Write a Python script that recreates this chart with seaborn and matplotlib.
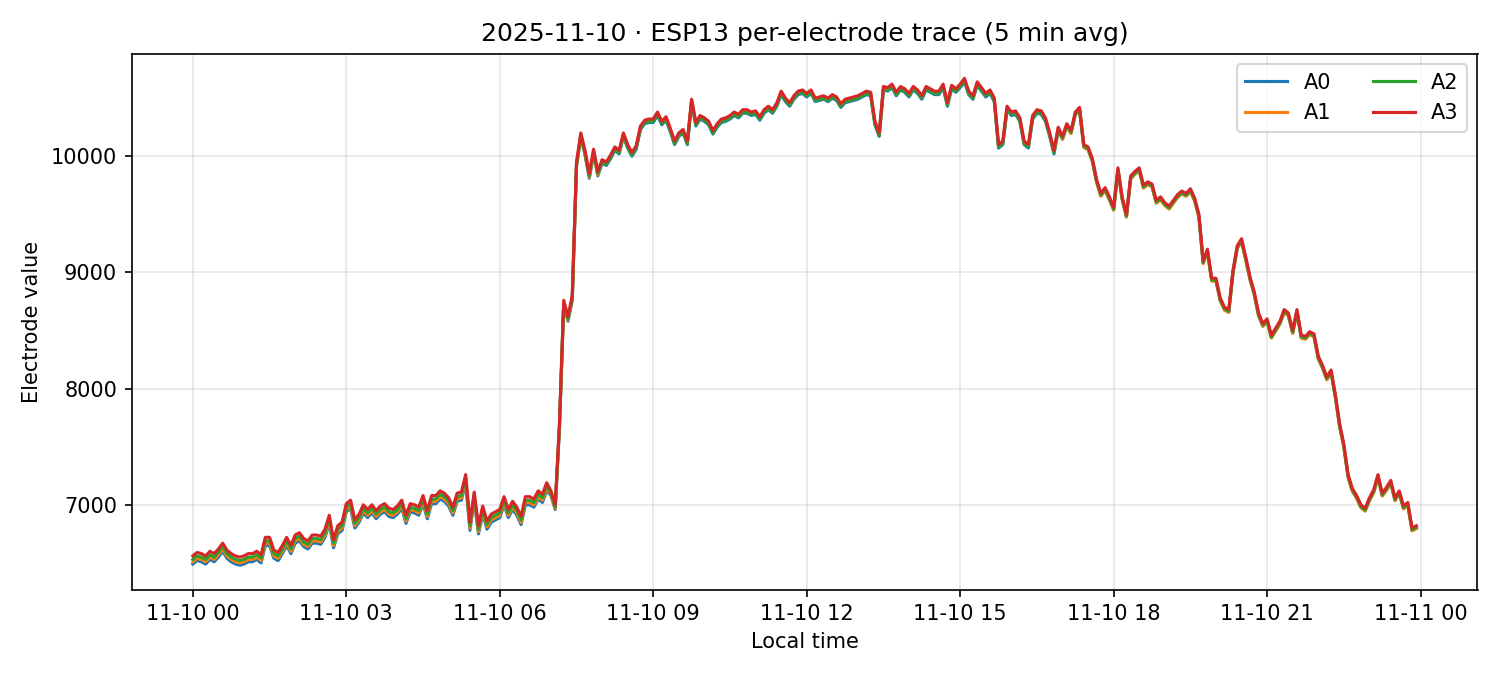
import numpy as np
import pandas as pd
import matplotlib
matplotlib.use("Agg")
import matplotlib.pyplot as plt
import matplotlib.dates as mdates
import seaborn as sns

# A3 values, 5-minute averages, one row per hour (12 values each)
a3_hours = [
    [6560,6590,6580,6560,6600,6580,6620,6670,6610,6580,6560,6550],
    [6560,6580,6580,6600,6570,6720,6720,6610,6590,6650,6720,6650],
    [6740,6760,6710,6690,6740,6740,6730,6790,6910,6700,6820,6850],
    [7010,7040,6870,6920,7000,6960,7000,6950,6990,7010,6970,6960],
    [6990,7040,6910,7010,7000,6980,7080,6950,7080,7080,7120,7100],
    [7060,6980,7100,7110,7260,6850,7110,6820,6990,6860,6920,6940],
    [6960,7070,6960,7030,6980,6900,7070,7070,7050,7120,7090,7190],
    [7120,7000,7700,8760,8620,8800,9950,10200,10050,9850,10060,9870],
    [9970,9950,10010,10080,10050,10200,10100,10030,10090,10260,10310,10320],
    [10320,10380,10300,10340,10240,10130,10200,10230,10130,10490,10290,10350],
    [10330,10300,10220,10280,10320,10330,10350,10380,10360,10400,10400,10380],
    [10390,10340,10400,10430,10400,10460,10560,10500,10460,10520,10560,10570],
    [10540,10570,10500,10510,10520,10500,10530,10510,10450,10490,10500,10510],
    [10520,10540,10560,10550,10300,10200,10600,10590,10620,10550,10600,10580],
    [10540,10600,10570,10520,10600,10580,10560,10560,10620,10460,10610,10580],
    [10620,10670,10560,10520,10640,10590,10540,10570,10500,10100,10130,10430],
    [10380,10390,10330,10130,10100,10350,10400,10390,10330,10200,10050,10250],
    [10170,10280,10220,10380,10420,10100,10080,9980,9800,9680,9730,9650],
    [9560,9900,9650,9500,9830,9870,9900,9750,9780,9760,9620,9650],
    [9600,9570,9620,9670,9700,9680,9720,9640,9500,9100,9200,8950],
    [8950,8780,8700,8680,9020,9230,9290,9130,8960,8830,8650,8560],
    [8600,8460,8520,8580,8680,8650,8500,8680,8460,8450,8490,8470],
    [8280,8200,8100,8160,7950,7700,7520,7260,7140,7080,7000,6970],
    [7060,7130,7260,7100,7150,7210,7060,7120,6990,7020,6800,6820],
]
# per-hour offsets of the other electrodes relative to A3
a0_offset = [-70]*7 + [-40] + [-30]*9 + [-20]*7
a1_offset = [-50]*7 + [-30] + [-10]*9 + [-25]*7
a2_offset = [-30]*7 + [-20] + [-20]*9 + [-15]*7

a3 = np.array([v for h in a3_hours for v in h], dtype=float)
off = {"A0": a0_offset, "A1": a1_offset, "A2": a2_offset, "A3": [0]*24}
times = pd.date_range("2025-11-10 00:00", periods=len(a3), freq="5min")

rows = []
for name, o in off.items():
    vals = a3 + np.repeat(o, 12)
    rows.append(pd.DataFrame({"time": times, "value": vals, "electrode": name}))
df = pd.concat(rows)

fig, ax = plt.subplots(figsize=(10, 4.5), dpi=150)
sns.lineplot(data=df, x="time", y="value", hue="electrode",
             palette=["#1f77b4", "#ff7f0e", "#2ca02c", "#d62728"], lw=1.5, ax=ax)
ax.set_title("2025-11-10 · ESP13 per-electrode trace (5 min avg)")
ax.set_xlabel("Local time")
ax.set_ylabel("Electrode value")
ax.xaxis.set_major_locator(mdates.HourLocator(byhour=range(0, 24, 3)))
ax.xaxis.set_major_formatter(mdates.DateFormatter("%m-%d %H"))
ax.grid(True, alpha=0.3)
ax.legend(ncol=2, loc="upper right", title=None)
fig.tight_layout()
fig.savefig("out.png")
